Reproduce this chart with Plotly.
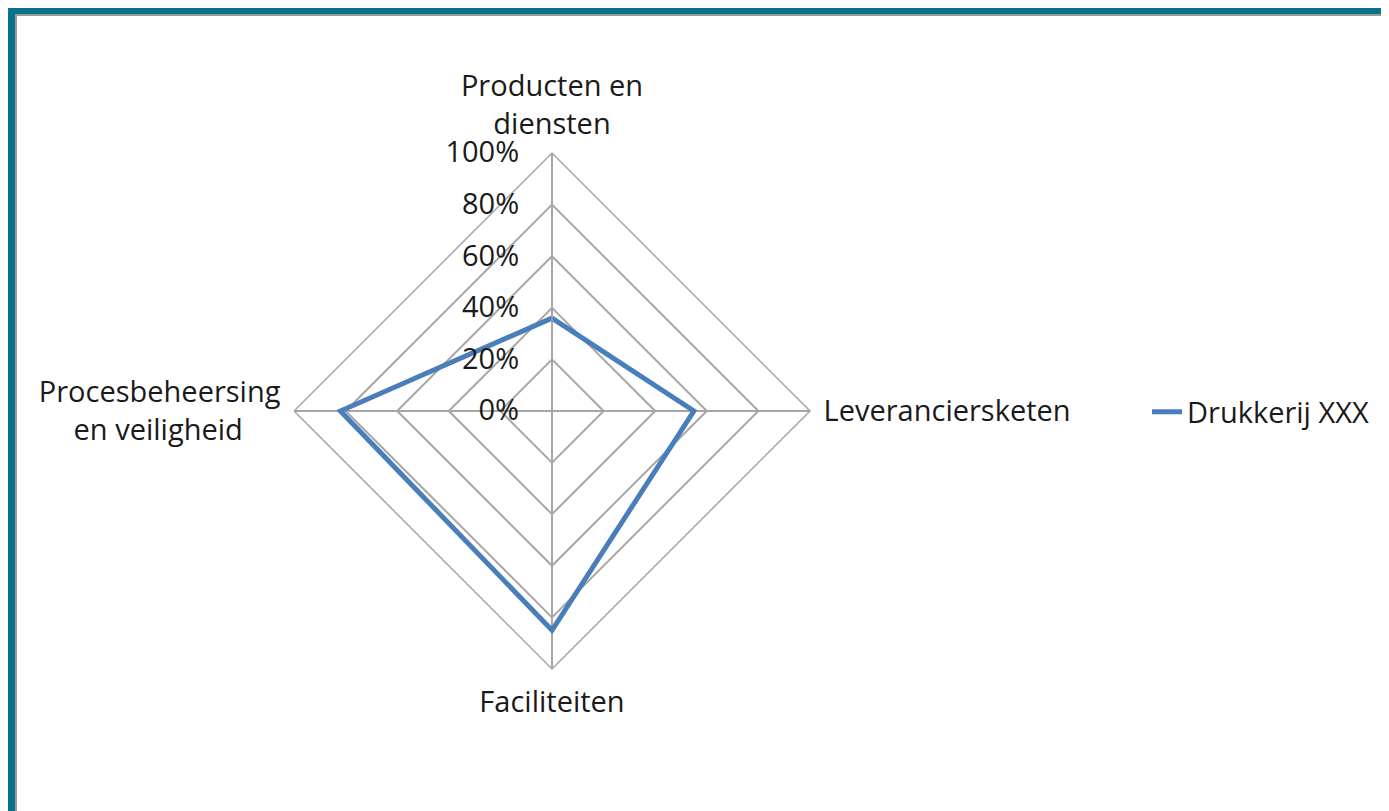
import plotly.graph_objects as go

NB = "\u00a0"
categories = ["Producten en<br>diensten", "Leveranciersketen", "Faciliteiten",
              "Procesbeheersing<br>en veiligheid" + NB * 5]
values = [36, 55, 85, 82]
series_name = "Drukkerij XXX"
tick_vals = [0, 20, 40, 60, 80, 100]
tick_text = ["0%", "20%", "40%", "60%", "80%", "100%"]

W, H = 1389, 811
FONT = "Open Sans"
FS = 29
fig = go.Figure()
fig.add_trace(go.Scatterpolar(
    r=values + values[:1],
    theta=categories + categories[:1],
    mode="lines",
    name=series_name,
    line=dict(color="#4a7ebb", width=5),
    showlegend=True,
))

cx, cy, R = 544, 403, 258
fig.update_layout(
    width=W, height=H,
    paper_bgcolor="white",
    margin=dict(l=0, r=0, t=0, b=0),
    font=dict(family=FONT, size=FS, color="#1a1a1a"),
    polar=dict(
        domain=dict(x=[(cx - R) / W, (cx + R) / W], y=[(H - cy - R) / H, (H - cy + R) / H]),
        gridshape="linear",
        bgcolor="white",
        angularaxis=dict(
            rotation=90, direction="clockwise",
            showgrid=True, gridcolor="#a6a6a6", gridwidth=1.5,
            showline=True, linecolor="#a6a6a6", linewidth=1.5,
            ticks="outside", ticklen=7, tickcolor="rgba(0,0,0,0)",
            tickfont=dict(family=FONT, size=FS, color="#1a1a1a"),
        ),
        radialaxis=dict(
            range=[0, 100], tickvals=tick_vals, ticktext=tick_text,
            angle=90, side="counterclockwise", tickangle=90,
            showgrid=True, gridcolor="#a6a6a6", gridwidth=1.5,
            showline=True, linecolor="#a6a6a6", linewidth=1.5,
            ticks="outside", ticklen=22, tickcolor="rgba(0,0,0,0)",
            tickfont=dict(family=FONT, size=FS, color="#1a1a1a"),
        ),
    ),
    legend=dict(
        x=1139 / W, y=(H - 404) / H, xanchor="left", yanchor="middle",
        font=dict(family=FONT, size=FS, color="#1a1a1a"),
        bgcolor="rgba(0,0,0,0)",
    ),
    shapes=[
        dict(type="rect", xref="paper", yref="paper", x0=0, x1=7 / W, y0=0, y1=1,
             fillcolor="#077289", line=dict(width=0), layer="above"),
        dict(type="rect", xref="paper", yref="paper", x0=0, x1=1, y0=1 - 6 / H, y1=1,
             fillcolor="#077289", line=dict(width=0), layer="above"),
        dict(type="line", xref="paper", yref="paper", x0=8 / W, x1=8 / W, y0=0, y1=1 - 6 / H,
             line=dict(color="#9a9a9a", width=2), layer="above"),
        dict(type="line", xref="paper", yref="paper", x0=8 / W, x1=1, y0=1 - 7 / H, y1=1 - 7 / H,
             line=dict(color="#9a9a9a", width=2), layer="above"),
    ],
)

fig.write_html("out.html")
